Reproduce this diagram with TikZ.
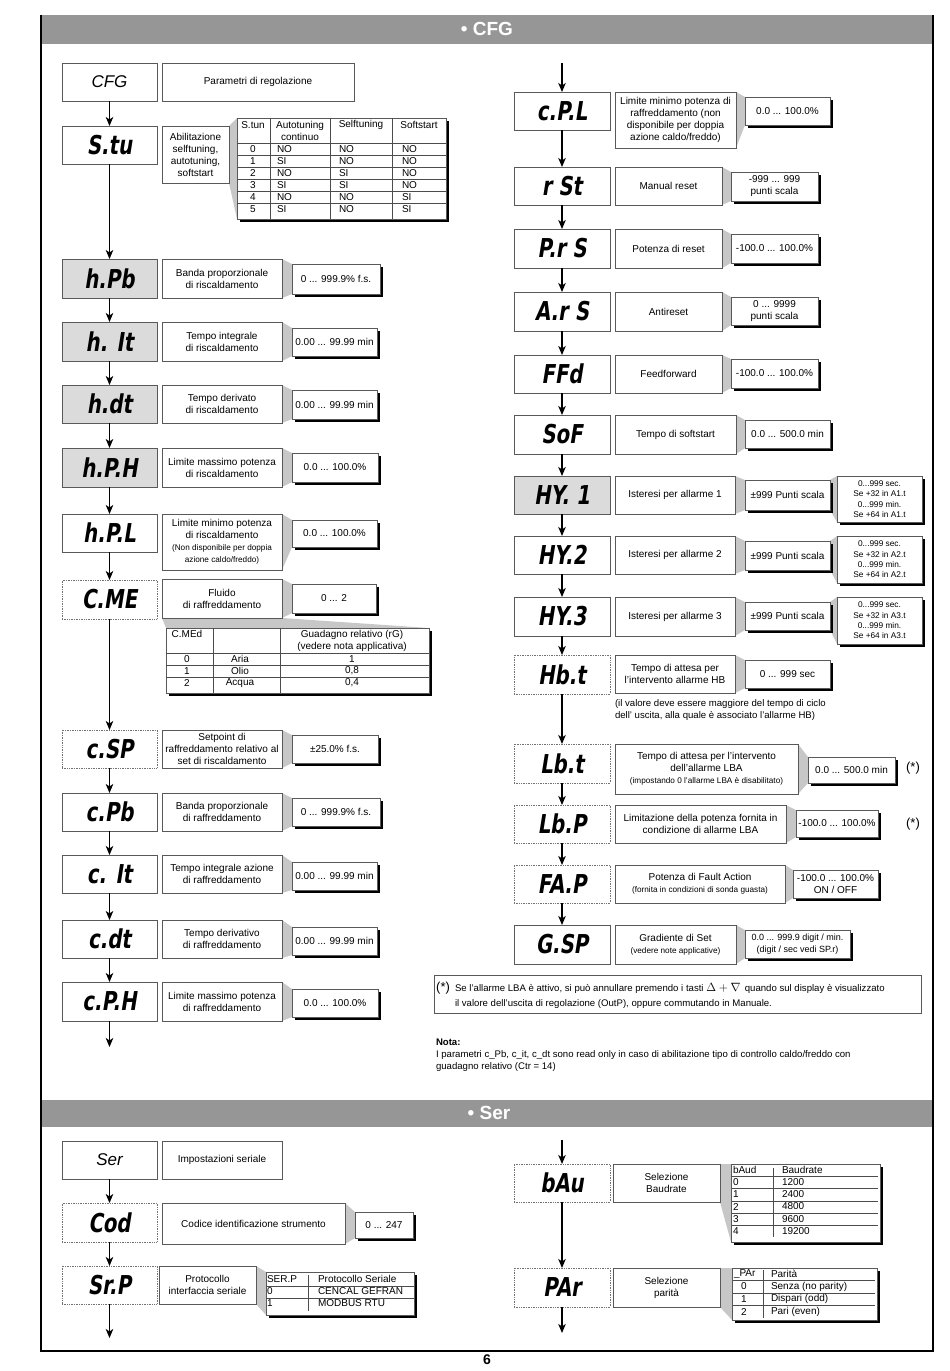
\documentclass[tikz,border=0pt]{standalone}
\usepackage{fontspec}
\setmainfont{Liberation Sans}
\newfontfamily\segfont[FakeStretch=0.76,FakeSlant=0.16]{DejaVu Sans}
\usetikzlibrary{arrows.meta,shadows}
\pgfdeclarelayer{background}
\pgfsetlayers{background,main}
\definecolor{hdr}{gray}{0.59}
\definecolor{dispgray}{gray}{0.86}
\definecolor{wedgecol}{gray}{0.78}
\definecolor{bord}{gray}{0.35}
\newcommand\fa{\fontsize{10}{12}\selectfont}
\newcommand\fsm{\fontsize{8.2}{10}\selectfont}
\newcommand\fxs{\fontsize{8.3}{10.3}\selectfont}
\newcommand\fnote{\fontsize{9.6}{12}\selectfont}
\newcommand\fseg{\segfont\bfseries\fontsize{26}{26}\selectfont}
\newcommand\fcfg{\fontsize{17}{17}\selectfont\mdseries\itshape}
\newcommand\fstar{\fontsize{13}{13}\selectfont}
\newcommand\mybox[7]{%
  \pgfmathsetmacro\bxw{#4-#2}\pgfmathsetmacro\bxh{#5-#3}%
  \pgfmathsetmacro\bxx{(#2+#4)/2}\pgfmathsetmacro\bxy{(#3+#5)/2}%
  \node[#6,minimum width=\bxw pt,minimum height=\bxh pt] (#1) at (\bxx,\bxy) {#7};}
\newcommand\mytext[4][]{\node[txt,#1] (#2) at (#3) {#4};}
\newcommand\callout[2]{\begin{pgfonlayer}{background}\fill[wedgecol] (#1.north east) -- (#2.north west) -- (#2.south west) -- (#1.south east) -- cycle;\end{pgfonlayer}}
\begin{document}
\begin{tikzpicture}[x=1pt,y=-1pt,
  txt/.style={inner sep=0pt, outer sep=0pt, font=\fa, align=center},
  disp/.style={draw=bord, line width=0.7pt, fill=white, inner sep=0pt, outer sep=0pt, font=\fseg},
  dispg/.style={disp, fill=dispgray},
  dispd/.style={disp, draw=black!55, densely dotted},
  descbox/.style={draw=bord, line width=0.6pt, fill=white, inner sep=0pt, outer sep=0pt, align=center, font=\fa},
  valbox/.style={descbox, drop shadow={shadow xshift=2.6pt, shadow yshift=-2.6pt, fill=black, opacity=1}},
  tline/.style={draw=black!70, line width=0.7pt},
  arr/.style={line width=1.3pt, -{Stealth[length=9pt,width=7.5pt,inset=2.5pt]}}]
\useasboundingbox (0,0) rectangle (950,1371);
% frame and headers
\fill[hdr] (41,15) rectangle (933,44);
\node[inner sep=0pt, text=white, font=\fontsize{19}{19}\selectfont\bfseries] (hcfg) at (487,29) {• CFG};
\fill[hdr] (41,1100) rectangle (933,1127);
\node[inner sep=0pt, text=white, font=\fontsize{19}{19}\selectfont\bfseries] (hser) at (489,1113) {• Ser};
\draw[line width=1.1pt] (41,15) -- (41,1351) -- (933,1351) -- (933,15);
\node[inner sep=0pt, font=\fontsize{14}{14}\selectfont\bfseries] (pnum) at (487,1360) {6};

% ===== LEFT COLUMN =====
\mybox{cfg}{62}{63}{157}{101}{disp,font=\fcfg}{CFG}
\mybox{cfgd}{162}{63}{354}{101}{descbox}{Parametri di regolazione}

\mybox{stu}{62}{126}{157}{164}{disp}{S.tu}
\mybox{stud}{162}{126}{229}{183}{descbox}{Abilitazione\\selftuning,\\autotuning,\\softstart}
\mybox{stut}{237}{118}{446}{219}{valbox}{}
\callout{stud}{stut}
\foreach \xx in {270,330,392} \draw[tline] (\xx,118) -- (\xx,219);
\foreach \yy in {143,155,167,179,191,203} \draw[tline] (237,\yy) -- (446,\yy);
\mytext{sh0}{253,125}{S.tun}
\mytext{sh1}{300,131}{Autotuning\\continuo}
\mytext{sh2}{361,125}{Selftuning}
\mytext{sh3}{419,125}{Softstart}
\foreach \k/\yy/\a/\b/\c in {0/149/NO/NO/NO,1/161/SI/NO/NO,2/173/NO/SI/NO,3/185/SI/SI/NO,4/197/NO/NO/SI,5/209/SI/NO/SI}{
  \node[txt] (sr\k n) at (253,\yy) {\k};
  \node[txt,anchor=west] (sr\k a) at (277,\yy) {\a};
  \node[txt,anchor=west] (sr\k b) at (339,\yy) {\b};
  \node[txt,anchor=west] (sr\k c) at (402,\yy) {\c};
}

\mybox{hpb}{62}{259}{157}{298}{dispg}{h.Pb}
\mybox{hpbd}{162}{259}{282}{298}{descbox}{Banda proporzionale\\di riscaldamento}
\mybox{hpbv}{292}{264}{380}{294}{valbox}{0 ... 999.9\% f.s.}
\callout{hpbd}{hpbv}

\mybox{hit}{62}{322}{157}{361}{dispg}{h. It}
\mybox{hitd}{162}{322}{282}{361}{descbox}{Tempo integrale\\di riscaldamento}
\mybox{hitv}{292}{328}{377}{356}{valbox}{0.00 ... 99.99 min}
\callout{hitd}{hitv}

\mybox{hdt}{62}{385}{157}{423}{dispg}{h.dt}
\mybox{hdtd}{162}{385}{282}{423}{descbox}{Tempo derivato\\di riscaldamento}
\mybox{hdtv}{292}{390}{377}{419}{valbox}{0.00 ... 99.99 min}
\callout{hdtd}{hdtv}

\mybox{hph}{62}{448}{157}{487}{dispg}{h.P.H}
\mybox{hphd}{162}{448}{282}{487}{descbox}{Limite massimo potenza\\di riscaldamento}
\mybox{hphv}{292}{453}{378}{482}{valbox}{0.0 ... 100.0\%}
\callout{hphd}{hphv}

\mybox{hpl}{62}{514}{157}{552}{disp}{h.P.L}
\mybox{hpld}{162}{514}{282}{570}{descbox}{Limite minimo potenza\\di riscaldamento\\{\fsm (Non disponibile per doppia}\\{\fsm azione caldo/freddo)}}
\mybox{hplv}{292}{520}{377}{547}{valbox}{0.0 ... 100.0\%}
\callout{hpld}{hplv}

\mybox{cme}{62}{580}{157}{619}{dispd}{C.ME}
\mybox{cmed}{162}{579}{282}{618}{descbox}{Fluido\\di raffreddamento}
\mybox{cmev}{292}{584}{376}{613}{valbox}{0 ... 2}
\callout{cmed}{cmev}
\mybox{cmet}{166}{628}{429}{693}{valbox}{}
\begin{pgfonlayer}{background}\fill[wedgecol] (cmed.south west) -- (cmed.south east) -- (cmet.north east) -- (cmet.north west) -- cycle;\end{pgfonlayer}
\foreach \xx in {213,280} \draw[tline] (\xx,628) -- (\xx,693);
\foreach \yy in {653,665,677} \draw[tline] (166,\yy) -- (429,\yy);
\mytext{ch0}{187,634}{C.MEd}
\mytext{ch2}{352,640.5}{Guadagno relativo (rG)\\(vedere nota applicativa)}
\foreach \k/\yy/\a/\b in {0/659/Aria/1,1/671/Olio/{0,8},2/683/Acqua/{0,4}}{
  \node[txt] (cr\k n) at (187,\yy) {\k};
  \node[txt] (cr\k a) at (240,\yy) {\a};
  \node[txt] (cr\k b) at (352,\yy) {\b};
}

\mybox{csp}{62}{730}{157}{768}{dispd}{c.SP}
\mybox{cspd}{162}{730}{282}{768}{descbox}{Setpoint di\\raffreddamento relativo al\\set di riscaldamento}
\mybox{cspv}{292}{735}{378}{763}{valbox}{±25.0\% f.s.}
\callout{cspd}{cspv}

\mybox{cpb}{62}{793}{157}{831}{disp}{c.Pb}
\mybox{cpbd}{162}{793}{282}{831}{descbox}{Banda proporzionale\\di raffreddamento}
\mybox{cpbv}{292}{798}{380}{826}{valbox}{0 ... 999.9\% f.s.}
\callout{cpbd}{cpbv}

\mybox{cit}{62}{855}{157}{893}{disp}{c. It}
\mybox{citd}{162}{855}{282}{893}{descbox}{Tempo integrale azione\\di raffreddamento}
\mybox{citv}{292}{862}{377}{890}{valbox}{0.00 ... 99.99 min}
\callout{citd}{citv}

\mybox{cdt}{62}{920}{157}{958}{disp}{c.dt}
\mybox{cdtd}{162}{920}{282}{958}{descbox}{Tempo derivativo\\di raffreddamento}
\mybox{cdtv}{292}{927}{377}{955}{valbox}{0.00 ... 99.99 min}
\callout{cdtd}{cdtv}

\mybox{cph}{62}{982}{157}{1021}{disp}{c.P.H}
\mybox{cphd}{162}{982}{282}{1021}{descbox}{Limite massimo potenza\\di raffreddamento}
\mybox{cphv}{292}{989}{378}{1017}{valbox}{0.0 ... 100.0\%}
\callout{cphd}{cphv}

\coordinate (lend) at (109.5,1047);
\draw[arr] (cfg) -- (stu);
\draw[arr] (stu) -- (hpb);
\draw[arr] (hpb) -- (hit);
\draw[arr] (hit) -- (hdt);
\draw[arr] (hdt) -- (hph);
\draw[arr] (hph) -- (hpl);
\draw[arr] (hpl) -- (cme);
\draw[arr] (cme) -- (csp);
\draw[arr] (csp) -- (cpb);
\draw[arr] (cpb) -- (cit);
\draw[arr] (cit) -- (cdt);
\draw[arr] (cdt) -- (cph);
\draw[arr] (cph) -- (lend);

% ===== RIGHT COLUMN =====
\coordinate (rstart) at (562,63);
\mybox{cpl}{514}{92}{610}{130}{disp}{c.P.L}
\mybox{cpld}{615}{92}{736}{148}{descbox}{Limite minimo potenza di\\raffreddamento (non\\disponibile per doppia\\azione caldo/freddo)}
\mybox{cplv}{745}{97}{830}{125}{valbox}{0.0 ... 100.0\%}
\callout{cpld}{cplv}

\mybox{rst}{514}{167}{610}{205}{disp}{r St}
\mybox{rstd}{615}{167}{722}{205}{descbox}{Manual reset}
\mybox{rstv}{731}{172}{818}{201}{valbox}{-999 ... 999\\punti scala}
\callout{rstd}{rstv}

\mybox{prs}{514}{229}{610}{268}{disp}{P.r S}
\mybox{prsd}{615}{229}{722}{268}{descbox}{Potenza di reset}
\mybox{prsv}{731}{234}{818}{263}{valbox}{-100.0 ... 100.0\%}
\callout{prsd}{prsv}

\mybox{ars}{514}{292}{610}{331}{disp}{A.r S}
\mybox{arsd}{615}{292}{722}{331}{descbox}{Antireset}
\mybox{arsv}{731}{297}{818}{325}{valbox}{0 ... 9999\\punti scala}
\callout{arsd}{arsv}

\mybox{ffd}{514}{355}{610}{393}{disp}{FFd}
\mybox{ffdd}{615}{355}{722}{393}{descbox}{Feedforward}
\mybox{ffdv}{731}{359}{818}{388}{valbox}{-100.0 ... 100.0\%}
\callout{ffdd}{ffdv}

\mybox{sof}{514}{415}{610}{454}{disp}{SoF}
\mybox{sofd}{615}{415}{736}{454}{descbox}{Tempo di softstart}
\mybox{sofv}{745}{420}{830}{448}{valbox}{0.0 ... 500.0 min}
\callout{sofd}{sofv}

\mybox{hya}{514}{476}{610}{514}{dispg}{HY. 1}
\mybox{hyad}{615}{476}{735}{514}{descbox}{Isteresi per allarme 1}
\mybox{hyav}{745}{480}{830}{510}{valbox}{±999 Punti scala}
\mybox{hyax}{837}{476}{922}{522}{valbox,font=\fxs}{0...999 sec.\\Se +32 in A1.t\\0...999 min.\\Se +64 in A1.t}
\callout{hyad}{hyav}
\callout{hyav}{hyax}

\mybox{hyb}{514}{536}{610}{574}{disp}{HY.2}
\mybox{hybd}{615}{536}{735}{574}{descbox}{Isteresi per allarme 2}
\mybox{hybv}{745}{541}{830}{570}{valbox}{±999 Punti scala}
\mybox{hybx}{837}{536}{922}{583}{valbox,font=\fxs}{0...999 sec.\\Se +32 in A2.t\\0...999 min.\\Se +64 in A2.t}
\callout{hybd}{hybv}
\callout{hybv}{hybx}

\mybox{hyc}{514}{597}{610}{636}{disp}{HY.3}
\mybox{hycd}{615}{597}{735}{636}{descbox}{Isteresi per allarme 3}
\mybox{hycv}{745}{602}{830}{630}{valbox}{±999 Punti scala}
\mybox{hycx}{837}{597}{922}{644}{valbox,font=\fxs}{0...999 sec.\\Se +32 in A3.t\\0...999 min.\\Se +64 in A3.t}
\callout{hycd}{hycv}
\callout{hycv}{hycx}

\mybox{hbt}{514}{655}{610}{694}{dispd}{Hb.t}
\mybox{hbtd}{615}{655}{735}{693}{descbox}{Tempo di attesa per\\l'intervento allarme HB}
\mybox{hbtv}{745}{660}{830}{688}{valbox}{0 ... 999 sec}
\callout{hbtd}{hbtv}
\node[txt,font=\fnote,anchor=base west] (hbn1) at (615,706) {(il valore deve essere maggiore del tempo di ciclo};
\node[txt,font=\fnote,anchor=base west] (hbn2) at (615,718) {dell' uscita, alla quale è associato l'allarme HB)};

\mybox{lbt}{514}{744}{610}{783}{dispd}{Lb.t}
\mybox{lbtd}{615}{744}{798}{794}{descbox}{Tempo di attesa per l'intervento\\dell'allarme LBA\\{\fsm (impostando 0 l'allarme LBA è disabilitato)}}
\mybox{lbtv}{808}{757}{895}{783}{valbox}{0.0 ... 500.0 min}
\callout{lbtd}{lbtv}
\node[inner sep=0pt, font=\fstar] (asta) at (913,768) {(*)};

\mybox{lbp}{514}{805}{610}{843}{dispd}{Lb.P}
\mybox{lbpd}{615}{805}{786}{843}{descbox}{Limitazione della potenza fornita in\\condizione di allarme LBA}
\mybox{lbpv}{796}{810}{878}{837}{valbox}{-100.0 ... 100.0\%}
\callout{lbpd}{lbpv}
\node[inner sep=0pt, font=\fstar] (astb) at (913,824) {(*)};

\mybox{fap}{514}{865}{610}{903}{dispd}{FA.P}
\mybox{fapd}{615}{865}{785}{903}{descbox}{Potenza di Fault Action\\{\fsm (fornita in condizioni di sonda guasta)}}
\mybox{fapv}{793}{870}{878}{898}{valbox}{-100.0 ... 100.0\%\\ON / OFF}
\callout{fapd}{fapv}

\mybox{gsp}{514}{925}{610}{964}{disp}{G.SP}
\mybox{gspd}{615}{925}{736}{964}{descbox}{Gradiente di Set\\{\fsm (vedere note applicative)}}
\mybox{gspv}{745}{930}{850}{958}{valbox,font=\fontsize{9}{11.5}\selectfont}{0.0 ... 999.9 digit / min.\\(digit / sec vedi SP.r)}
\callout{gspd}{gspv}

\draw[arr] (rstart) -- (cpl);
\draw[arr] (cpl) -- (rst);
\draw[arr] (rst) -- (prs);
\draw[arr] (prs) -- (ars);
\draw[arr] (ars) -- (ffd);
\draw[arr] (ffd) -- (sof);
\draw[arr] (sof) -- (hya);
\draw[arr] (hya) -- (hyb);
\draw[arr] (hyb) -- (hyc);
\draw[arr] (hyc) -- (hbt);
\draw[arr] (hbt) -- (lbt);
\draw[arr] (lbt) -- (lbp);
\draw[arr] (lbp) -- (fap);
\draw[arr] (fap) -- (gsp);

% notes
\mybox{nbox}{434}{975}{921}{1013}{draw=bord,line width=0.6pt}{}
\node[inner sep=0pt, anchor=west, font=\fstar] (nstar) at (436,988) {(*)};
\node[txt,font=\fnote,anchor=base west] (nl1) at (455,991) {Se l'allarme LBA è attivo, si può annullare premendo i tasti {\large$\Delta + \nabla$} \,quando sul display è visualizzato};
\node[txt,font=\fnote,anchor=base west] (nl2) at (455,1006) {il valore dell'uscita di regolazione (OutP), oppure commutando in Manuale.};
\node[txt,font=\fnote\bfseries,anchor=base west] (nota) at (436,1045) {Nota:};
\node[txt,font=\fnote,anchor=base west] (nt1) at (436,1057) {I parametri c\_Pb, c\_it, c\_dt sono read only in caso di abilitazione tipo di controllo caldo/freddo con};
\node[txt,font=\fnote,anchor=base west] (nt2) at (436,1069) {guadagno relativo (Ctr = 14)};

% ===== SER =====
\mybox{ser}{62}{1141}{157}{1179}{disp,font=\fcfg}{Ser}
\mybox{serd}{162}{1141}{282}{1179}{descbox}{Impostazioni seriale}

\mybox{cod}{62}{1203}{157}{1242}{dispd}{Cod}
\mybox{codd}{162}{1203}{345}{1244}{descbox}{Codice identificazione strumento}
\mybox{codv}{355}{1212}{413}{1238}{valbox}{0 ... 247}
\callout{codd}{codv}

\mybox{srp}{62}{1266}{157}{1304}{dispd}{Sr.P}
\mybox{srpd}{159}{1266}{256}{1304}{descbox}{Protocollo\\interfaccia seriale}
\mybox{srpt}{266}{1272}{414}{1315}{valbox}{}
\callout{srpd}{srpt}
\draw[tline] (308,1275) -- (308,1311);
\foreach \yy in {1286,1298} \draw[tline] (266,\yy) -- (414,\yy);
\foreach \k/\yy/\a/\b in {h/1279/SER.P/Protocollo Seriale,0/1291/0/CENCAL GEFRAN,1/1303/1/MODBUS RTU}{
  \node[txt,anchor=west] (pr\k a) at (267,\yy) {\a};
  \node[txt,anchor=west] (pr\k b) at (318,\yy) {\b};
}

\coordinate (send) at (109.5,1338);
\draw[arr] (ser) -- (cod);
\draw[arr] (cod) -- (srp);
\draw[arr] (srp) -- (send);

\coordinate (rsstart) at (562,1140);
\mybox{bau}{514}{1164}{610}{1202}{dispd}{bAu}
\mybox{baud}{613}{1164}{720}{1202}{descbox}{Selezione\\Baudrate}
\mybox{baut}{731}{1164}{880}{1242}{valbox}{}
\callout{baud}{baut}
\draw[tline] (773,1168) -- (773,1237);
\foreach \yy in {1176,1188,1201,1213,1225} \draw[tline] (732,\yy) -- (878,\yy);
\foreach \k/\yy/\a/\b in {h/1170/bAud/Baudrate,0/1182/0/1200,1/1194/1/2400,2/1206.5/2/4800,3/1219/3/9600,4/1231/4/19200}{
  \node[txt,anchor=west] (ba\k a) at (733,\yy) {\a};
  \node[txt,anchor=west] (ba\k b) at (782,\yy) {\b};
}

\mybox{par}{514}{1268}{610}{1307}{dispd}{PAr}
\mybox{pard}{613}{1268}{720}{1307}{descbox}{Selezione\\parità}
\mybox{part}{732}{1268}{877}{1320}{valbox}{}
\callout{pard}{part}
\draw[tline] (763,1270) -- (763,1318);
\foreach \yy in {1280,1293,1305} \draw[tline] (733,\yy) -- (875,\yy);
\node[txt,anchor=west] (pahn) at (734,1274) {\_PAr};
\node[txt,anchor=west] (pahb) at (771,1274) {Parità};
\foreach \k/\yy/\b in {0/1286.5/Senza (no parity),1/1299/Dispari (odd),2/1311.5/Pari (even)}{
  \node[txt] (pa\k a) at (744,\yy) {\k};
  \node[txt,anchor=west] (pa\k b) at (771,\yy) {\b};
}

\coordinate (rsend) at (562,1333);
\draw[arr] (rsstart) -- (bau);
\draw[arr] (bau) -- (par);
\draw[arr] (par) -- (rsend);
\end{tikzpicture}
\end{document}
